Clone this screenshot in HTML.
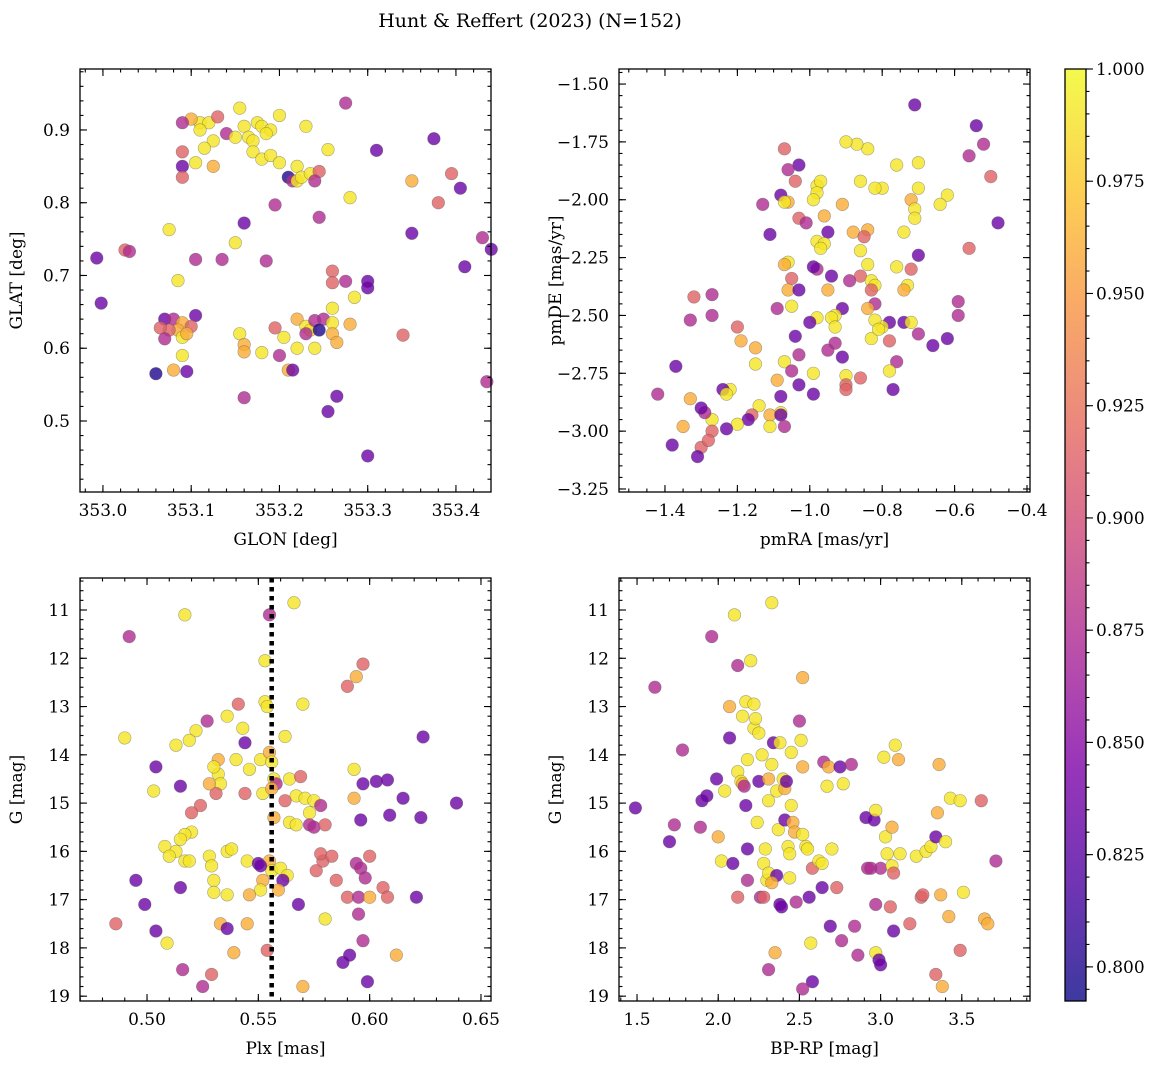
<!DOCTYPE html>
<html><head><meta charset="utf-8"><style>
body{margin:0;background:#fff;width:1161px;height:1068px;overflow:hidden}
svg text{font-family:"DejaVu Serif","Liberation Serif",serif;fill:#000}
</style></head><body>
<svg id="fig" width="1161" height="1068" viewBox="0 0 1161 1068" xmlns="http://www.w3.org/2000/svg">
<defs><linearGradient id="plasma" x1="0" y1="1" x2="0" y2="0">
<stop offset="0" stop-color="#0d0887"/><stop offset="0.125" stop-color="#4c02a1"/><stop offset="0.25" stop-color="#7e03a8"/><stop offset="0.375" stop-color="#a92395"/><stop offset="0.5" stop-color="#cc4778"/><stop offset="0.625" stop-color="#e66c5c"/><stop offset="0.75" stop-color="#f89540"/><stop offset="0.875" stop-color="#fdc527"/><stop offset="1" stop-color="#f0f921"/></linearGradient></defs>
<text x="530" y="27" font-size="19" text-anchor="middle">Hunt &amp; Reffert (2023) (N=152)</text>
</svg>
<script>
// probability codes: y=0.99 o=0.96 p=0.915 m=0.875 v=0.835 d=0.80
const posData=[[353.155,0.93,.99],[353.20,0.92,.99],[353.11,0.91,.99],[353.12,0.91,.99],[353.10,0.915,.96],[353.13,0.918,.915],[353.09,0.91,.875],[353.16,0.905,.99],[353.175,0.91,.99],[353.18,0.905,.99],[353.19,0.90,.99],[353.11,0.90,.99],[353.14,0.895,.875],[353.165,0.89,.99],[353.17,0.885,.99],[353.185,0.895,.99],[353.23,0.905,.99],[353.275,0.937,.875],[353.15,0.89,.99],[353.125,0.885,.99],[353.09,0.87,.915],[353.115,0.875,.99],[353.105,0.855,.99],[353.125,0.85,.96],[353.17,0.87,.99],[353.18,0.86,.99],[353.19,0.865,.99],[353.20,0.855,.99],[353.22,0.85,.99],[353.255,0.873,.99],[353.09,0.85,.835],[353.09,0.835,.915],[353.21,0.835,.80],[353.215,0.83,.875],[353.22,0.83,.99],[353.225,0.835,.99],[353.235,0.84,.99],[353.245,0.843,.915],[353.24,0.83,.875],[353.28,0.807,.99],[353.195,0.797,.875],[353.245,0.78,.875],[353.31,0.872,.835],[353.375,0.888,.835],[353.395,0.84,.915],[353.405,0.82,.835],[353.38,0.80,.915],[353.35,0.758,.835],[353.43,0.752,.875],[353.44,0.736,.835],[353.41,0.712,.835],[353.16,0.772,.835],[353.15,0.745,.99],[353.185,0.72,.875],[353.135,0.722,.875],[353.105,0.722,.875],[353.075,0.763,.99],[353.025,0.735,.915],[353.03,0.733,.875],[352.993,0.724,.835],[352.998,0.662,.835],[353.085,0.693,.99],[353.26,0.706,.915],[353.26,0.69,.915],[353.275,0.692,.875],[353.30,0.692,.835],[353.30,0.683,.835],[353.285,0.67,.99],[353.26,0.655,.99],[353.35,0.83,.96],[353.34,0.618,.915],[353.07,0.64,.835],[353.08,0.64,.875],[353.09,0.635,.96],[353.105,0.645,.835],[353.10,0.63,.915],[353.085,0.625,.96],[353.075,0.625,.915],[353.065,0.628,.915],[353.07,0.613,.875],[353.09,0.615,.99],[353.095,0.62,.96],[353.06,0.565,.80],[353.08,0.57,.96],[353.095,0.568,.835],[353.09,0.59,.99],[353.155,0.62,.99],[353.16,0.605,.96],[353.16,0.595,.96],[353.18,0.594,.99],[353.195,0.628,.915],[353.20,0.59,.875],[353.205,0.615,.99],[353.21,0.57,.96],[353.215,0.57,.835],[353.22,0.64,.96],[353.23,0.63,.99],[353.235,0.625,.99],[353.24,0.638,.875],[353.25,0.64,.875],[353.26,0.635,.99],[353.26,0.62,.96],[353.245,0.625,.80],[353.24,0.60,.99],[353.22,0.60,.99],[353.265,0.608,.96],[353.28,0.633,.96],[353.255,0.513,.835],[353.265,0.534,.835],[353.30,0.452,.835],[353.16,0.532,.875],[353.435,0.554,.875],[353.23,0.62,.875]];
const pmData=[[-0.71,-1.59,.835],[-0.54,-1.68,.835],[-0.52,-1.76,.875],[-0.56,-1.81,.875],[-0.50,-1.90,.915],[-0.48,-2.10,.835],[-0.56,-2.21,.915],[-0.59,-2.44,.875],[-0.59,-2.50,.875],[-0.62,-2.60,.835],[-0.66,-2.63,.835],[-0.70,-2.58,.875],[-0.70,-2.24,.835],[-0.74,-2.53,.835],[-0.78,-2.53,.835],[-0.80,-2.55,.99],[-0.70,-1.84,.99],[-0.76,-1.85,.99],[-0.70,-1.95,.99],[-0.72,-2.00,.96],[-0.71,-2.04,.99],[-0.71,-2.08,.99],[-0.62,-1.98,.99],[-0.64,-2.02,.99],[-0.74,-2.14,.99],[-0.72,-2.30,.915],[-0.76,-2.29,.99],[-0.73,-2.37,.99],[-0.74,-2.39,.96],[-0.72,-2.53,.99],[-0.78,-2.61,.915],[-0.76,-2.70,.875],[-0.78,-2.74,.99],[-0.77,-2.82,.835],[-0.80,-1.95,.99],[-0.82,-1.95,.99],[-0.84,-1.78,.99],[-0.87,-1.76,.99],[-0.90,-1.75,.99],[-0.86,-1.92,.99],[-0.91,-2.02,.96],[-0.88,-2.14,.96],[-0.84,-2.13,.96],[-0.85,-2.16,.915],[-0.86,-2.22,.99],[-0.84,-2.28,.99],[-0.86,-2.33,.915],[-0.83,-2.35,.99],[-0.82,-2.37,.99],[-0.83,-2.39,.915],[-0.82,-2.45,.875],[-0.84,-2.47,.96],[-0.82,-2.52,.99],[-0.83,-2.60,.99],[-0.81,-2.56,.99],[-0.89,-2.35,.875],[-0.91,-2.47,.835],[-0.93,-2.50,.99],[-0.94,-2.51,.99],[-0.93,-2.55,.99],[-0.93,-2.62,.875],[-0.91,-2.68,.835],[-0.90,-2.76,.99],[-0.90,-2.80,.915],[-0.90,-2.82,.915],[-0.86,-2.77,.915],[-0.98,-1.94,.99],[-0.97,-1.92,.99],[-0.98,-1.97,.99],[-0.99,-2.00,.99],[-0.95,-2.14,.835],[-0.98,-2.18,.99],[-0.96,-2.19,.99],[-0.97,-2.21,.99],[-0.96,-2.07,.96],[-0.98,-2.30,.875],[-0.99,-2.29,.835],[-0.94,-2.33,.835],[-0.95,-2.39,.96],[-0.98,-2.51,.99],[-1.00,-2.53,.835],[-0.95,-2.65,.875],[-0.99,-2.75,.99],[-0.99,-2.84,.835],[-1.03,-1.85,.835],[-1.06,-1.87,.875],[-1.04,-1.92,.915],[-1.07,-1.78,.915],[-1.08,-1.98,.835],[-1.06,-2.01,.96],[-1.07,-2.01,.99],[-1.13,-2.02,.875],[-1.11,-2.15,.835],[-1.06,-2.27,.99],[-1.07,-2.28,.96],[-1.05,-2.34,.915],[-1.06,-2.39,.96],[-1.03,-2.39,.835],[-1.05,-2.46,.99],[-1.09,-2.47,.875],[-1.04,-2.59,.835],[-1.07,-2.70,.99],[-1.03,-2.67,.875],[-1.05,-2.74,.875],[-1.03,-2.80,.835],[-1.09,-2.78,.96],[-1.08,-2.85,.835],[-1.08,-2.92,.99],[-1.11,-2.93,.96],[-1.08,-2.93,.835],[-1.07,-2.98,.875],[-1.11,-2.98,.99],[-1.03,-2.08,.915],[-1.01,-2.10,.875],[-1.15,-2.71,.99],[-1.14,-2.89,.99],[-1.16,-2.93,.915],[-1.17,-2.95,.835],[-1.15,-2.64,.96],[-1.20,-2.55,.915],[-1.19,-2.61,.96],[-1.20,-2.97,.99],[-1.22,-2.82,.99],[-1.24,-2.82,.835],[-1.23,-2.84,.99],[-1.23,-2.99,.835],[-1.27,-2.95,.99],[-1.27,-3.00,.915],[-1.29,-2.92,.875],[-1.30,-2.90,.835],[-1.30,-3.07,.915],[-1.31,-3.11,.835],[-1.33,-2.86,.96],[-1.33,-2.52,.875],[-1.32,-2.42,.915],[-1.27,-2.41,.875],[-1.27,-2.50,.875],[-1.35,-2.98,.96],[-1.38,-3.06,.835],[-1.37,-2.72,.835],[-1.42,-2.84,.875],[-1.28,-3.04,.915]];
const plxData=[[0.492,11.55,.875],[0.517,11.1,.99],[0.555,11.1,.875],[0.566,10.85,.99],[0.553,12.05,.99],[0.597,12.12,.915],[0.594,12.38,.96],[0.590,12.58,.915],[0.570,12.95,.99],[0.553,12.9,.99],[0.554,13.0,.99],[0.541,12.95,.915],[0.527,13.3,.875],[0.522,13.5,.99],[0.519,13.7,.99],[0.513,13.8,.99],[0.490,13.65,.99],[0.536,13.2,.99],[0.544,13.75,.835],[0.543,13.45,.99],[0.562,13.62,.99],[0.624,13.63,.835],[0.532,14.1,.96],[0.540,14.1,.99],[0.551,14.1,.99],[0.555,13.95,.96],[0.556,14.15,.99],[0.546,14.3,.99],[0.557,14.5,.99],[0.558,14.6,.875],[0.564,14.5,.99],[0.569,14.45,.915],[0.504,14.25,.835],[0.515,14.65,.835],[0.532,14.4,.99],[0.533,14.6,.99],[0.531,14.8,.915],[0.530,14.25,.99],[0.528,14.6,.96],[0.503,14.75,.99],[0.544,14.8,.915],[0.552,14.8,.99],[0.556,14.7,.96],[0.567,14.85,.99],[0.571,14.9,.99],[0.575,14.95,.99],[0.573,15.2,.99],[0.578,15.05,.875],[0.593,14.9,.96],[0.597,14.6,.835],[0.593,14.3,.99],[0.603,14.55,.835],[0.608,14.52,.835],[0.615,14.9,.835],[0.609,15.25,.835],[0.623,15.3,.835],[0.596,15.35,.835],[0.562,14.95,.915],[0.557,15.3,.96],[0.564,15.4,.99],[0.567,15.45,.99],[0.573,15.45,.875],[0.575,15.5,.875],[0.580,15.45,.915],[0.524,15.05,.915],[0.520,15.2,.915],[0.520,15.6,.99],[0.517,15.65,.99],[0.515,15.75,.99],[0.508,15.9,.99],[0.513,16.0,.99],[0.510,16.1,.99],[0.517,16.2,.99],[0.519,16.2,.99],[0.528,16.1,.99],[0.529,16.3,.99],[0.536,16.0,.99],[0.538,15.95,.99],[0.545,16.2,.99],[0.550,16.25,.835],[0.555,16.2,.96],[0.556,16.4,.99],[0.560,16.35,.99],[0.563,16.5,.99],[0.561,16.6,.835],[0.559,16.8,.96],[0.552,16.6,.96],[0.551,16.8,.99],[0.546,16.9,.96],[0.530,16.6,.99],[0.530,16.85,.99],[0.536,16.9,.99],[0.533,17.5,.96],[0.536,17.6,.835],[0.529,18.55,.915],[0.525,18.8,.875],[0.516,18.45,.875],[0.515,16.75,.835],[0.499,17.1,.835],[0.495,16.6,.835],[0.504,17.65,.835],[0.509,17.9,.99],[0.486,17.5,.915],[0.539,18.1,.96],[0.545,17.5,.96],[0.554,18.05,.915],[0.568,17.1,.835],[0.570,18.8,.96],[0.576,16.4,.915],[0.579,16.2,.915],[0.578,16.05,.915],[0.583,16.1,.915],[0.585,16.6,.915],[0.580,17.4,.99],[0.590,16.95,.915],[0.594,16.25,.875],[0.596,16.35,.875],[0.598,16.55,.875],[0.595,16.95,.875],[0.600,16.95,.96],[0.600,16.1,.915],[0.595,17.3,.875],[0.606,16.75,.915],[0.608,16.95,.915],[0.612,18.15,.96],[0.621,16.95,.835],[0.588,18.3,.835],[0.591,18.15,.835],[0.597,17.85,.875],[0.599,18.7,.835],[0.639,15.0,.835],[0.551,16.3,.835]];
const cmdData=[[1.49,15.1,.835],[1.61,12.6,.875],[1.70,15.8,.835],[1.73,15.45,.875],[1.78,13.9,.875],[1.89,15.5,.875],[1.90,14.95,.835],[1.93,14.85,.835],[1.96,11.55,.875],[1.99,14.5,.835],[2.00,15.7,.96],[2.02,16.2,.99],[2.04,14.75,.99],[2.07,13.0,.96],[2.07,13.65,.835],[2.09,16.25,.835],[2.10,11.1,.99],[2.12,12.15,.875],[2.12,14.35,.99],[2.14,14.55,.99],[2.15,14.6,.96],[2.15,13.2,.99],[2.16,14.65,.875],[2.17,15.05,.835],[2.18,14.1,.99],[2.18,15.95,.835],[2.18,16.6,.875],[2.17,12.9,.99],[2.20,12.05,.99],[2.22,12.95,.99],[2.22,13.45,.99],[2.23,13.25,.99],[2.24,15.4,.99],[2.25,13.55,.99],[2.25,14.55,.835],[2.26,16.95,.875],[2.27,14.0,.99],[2.28,16.25,.99],[2.28,16.95,.915],[2.29,15.95,.99],[2.30,16.6,.99],[2.31,16.45,.99],[2.31,14.95,.99],[2.31,14.5,.96],[2.33,10.85,.99],[2.33,14.2,.99],[2.34,13.75,.835],[2.35,18.1,.96],[2.36,14.75,.99],[2.36,16.5,.835],[2.37,15.55,.99],[2.38,17.1,.835],[2.38,13.75,.99],[2.39,17.15,.835],[2.40,14.5,.99],[2.41,14.7,.96],[2.41,15.35,.835],[2.42,14.55,.835],[2.43,15.9,.99],[2.44,16.55,.99],[2.44,16.05,.99],[2.45,15.05,.99],[2.45,13.95,.99],[2.46,15.4,.96],[2.47,15.6,.96],[2.48,17.05,.875],[2.50,13.3,.875],[2.51,13.7,.99],[2.52,15.65,.99],[2.52,12.4,.96],[2.52,14.25,.96],[2.54,15.9,.99],[2.55,15.95,.99],[2.56,16.95,.835],[2.57,17.9,.99],[2.58,18.7,.835],[2.58,16.35,.915],[2.62,16.2,.99],[2.64,16.25,.99],[2.64,16.75,.835],[2.65,14.15,.875],[2.67,14.65,.99],[2.68,14.25,.96],[2.69,17.55,.835],[2.70,15.95,.99],[2.73,16.75,.915],[2.75,14.25,.835],[2.76,17.85,.875],[2.77,14.6,.99],[2.82,14.2,.875],[2.84,17.55,.875],[2.86,18.15,.875],[2.91,15.3,.835],[2.92,16.35,.875],[2.94,16.35,.875],[2.96,15.35,.835],[2.97,15.15,.99],[2.97,17.1,.875],[2.97,18.1,.99],[2.99,18.25,.835],[3.00,18.35,.835],[3.00,16.35,.875],[3.02,14.05,.99],[3.03,15.7,.99],[3.04,16.05,.99],[3.06,17.15,.915],[3.07,15.5,.96],[3.07,16.3,.99],[3.08,16.45,.915],[3.08,17.65,.835],[3.09,13.8,.99],[3.11,14.1,.96],[3.12,16.05,.99],[3.18,17.5,.915],[3.22,16.1,.99],[3.25,16.95,.915],[3.26,16.9,.915],[3.28,16.0,.99],[3.31,15.9,.99],[3.34,15.7,.835],[3.34,18.55,.915],[3.35,15.2,.96],[3.36,14.2,.96],[3.37,16.9,.96],[3.38,18.8,.96],[3.40,15.8,.99],[3.42,17.35,.96],[3.43,14.9,.99],[3.49,14.95,.99],[3.49,18.05,.915],[3.51,16.85,.99],[3.62,14.95,.915],[3.64,17.4,.96],[3.66,17.5,.96],[3.71,16.2,.875],[2.52,18.85,.875],[2.31,18.45,.875],[2.33,16.65,.96],[2.12,16.95,.915]];
const glonTicks=[353.0,353.1,353.2,353.3,353.4];
const glatTicks=[0.5,0.6,0.7,0.8,0.9];
const pmraTicks=[-1.4,-1.2,-1.0,-0.8,-0.6,-0.4];
const pmdeTicks=[-3.25,-3.0,-2.75,-2.5,-2.25,-2.0,-1.75,-1.5];
const plxTicks=[0.50,0.55,0.60,0.65];
const gTicks=[11,12,13,14,15,16,17,18,19];
const bprpTicks=[1.5,2.0,2.5,3.0,3.5];
const cbarTicks=[0.800,0.825,0.850,0.875,0.900,0.925,0.950,0.975,1.000];
const plxCut=0.556;

const NS="http://www.w3.org/2000/svg";
const svg=document.getElementById('fig');
const VMIN=0.7924,VMAX=1.0;
const stops=[[13,8,135],[76,2,161],[126,3,168],[169,35,149],[204,71,120],[230,108,92],[248,149,64],[253,197,39],[240,249,33]];
function cmap(v){let t=Math.max(0,Math.min(1,(v-VMIN)/(VMAX-VMIN)))*(stops.length-1);let i=Math.min(Math.floor(t),stops.length-2),f=t-i;const a=stops[i],b=stops[i+1];return `rgb(${a.map((c,k)=>Math.round(c+(b[k]-c)*f)).join(',')})`;}
function el(tag,attrs,parent){const e=document.createElementNS(NS,tag);for(const k in attrs)e.setAttribute(k,attrs[k]);(parent||svg).appendChild(e);return e;}
function fmt(v,d){return v.toFixed(d).replace('-','\u2212');}

function panel(o){
  const g=el('g',{});
  
  
  const sx=v=>o.x0+(v-o.xmin)/(o.xmax-o.xmin)*(o.x1-o.x0);
  const sy=o.invert?(v=>o.y0+(v-o.ymin)/(o.ymax-o.ymin)*(o.y1-o.y0)):(v=>o.y1-(v-o.ymin)/(o.ymax-o.ymin)*(o.y1-o.y0));
  const pts=el('g',{},g);
  
  
  o.data.forEach(d=>{
    const c=el('circle',{cx:sx(d[0]),cy:sy(d[1]),r:6.3,fill:cmap(d[2]),'fill-opacity':0.8,stroke:'#555','stroke-opacity':0.5,'stroke-width':0.6},pts);
    
    
  });
  if(o.vline!==undefined){
    const l=el('line',{x1:sx(o.vline),x2:sx(o.vline),y1:o.y0,y2:o.y1,stroke:'#000','stroke-width':4.5,'stroke-dasharray':'4.5,4.5'},g);
    
    
  }
  const fr=el('rect',{x:o.x0,y:o.y0,width:o.x1-o.x0,height:o.y1-o.y0,fill:'none',stroke:'#000','stroke-width':1.3},g);
  
  
  const tk=el('g',{stroke:'#000','stroke-width':1.1},g);
  
  
  const xs=Math.ceil(o.xmin/o.xminor),xe=Math.floor(o.xmax/o.xminor);
  for(let i=xs;i<=xe;i++){const X=sx(i*o.xminor);el('line',{x1:X,x2:X,y1:o.y1,y2:o.y1-3.5},tk);el('line',{x1:X,x2:X,y1:o.y0,y2:o.y0+3.5},tk);}
  const ys=Math.ceil(o.ymin/o.yminor),ye=Math.floor(o.ymax/o.yminor);
  for(let i=ys;i<=ye;i++){const Y=sy(i*o.yminor);el('line',{x1:o.x0,x2:o.x0+3.5,y1:Y,y2:Y},tk);el('line',{x1:o.x1,x2:o.x1-3.5,y1:Y,y2:Y},tk);}
  const lab=el('g',{'font-size':17},g);
  
  
  o.xticks.forEach(v=>{const X=sx(v);el('line',{x1:X,x2:X,y1:o.y1,y2:o.y1-7},tk);el('line',{x1:X,x2:X,y1:o.y0,y2:o.y0+7},tk);
    const t=el('text',{x:X,y:o.y1+24,'text-anchor':'middle'},lab);t.textContent=fmt(v,o.xd);});
  o.yticks.forEach(v=>{if(v<Math.min(o.ymin,o.ymax)-1e-9||v>Math.max(o.ymin,o.ymax)+1e-9)return;const Y=sy(v);el('line',{x1:o.x0,x2:o.x0+7,y1:Y,y2:Y},tk);el('line',{x1:o.x1,x2:o.x1-7,y1:Y,y2:Y},tk);
    const t=el('text',{x:o.x0-10,y:Y+6,'text-anchor':'end'},lab);t.textContent=fmt(v,o.yd);});
  const xl=el('text',{x:(o.x0+o.x1)/2,y:o.y1+53,'text-anchor':'middle','font-size':17},g);xl.textContent=o.xlabel;
  
  const yl=el('text',{x:0,y:0,'text-anchor':'middle','font-size':17,transform:`translate(${o.x0-58},${(o.y0+o.y1)/2}) rotate(-90)`},g);yl.textContent=o.ylabel;
  
}
panel({name:'position-panel',x0:80,x1:491,y0:69,y1:492,xmin:352.974,xmax:353.4397,ymin:0.4024,ymax:0.9838,xminor:0.02,yminor:0.02,xticks:glonTicks,yticks:glatTicks,xd:1,yd:1,xlabel:'GLON [deg]',ylabel:'GLAT [deg]',data:posData});
panel({name:'proper-motion-panel',x0:619,x1:1030,y0:69,y1:492,xmin:-1.527,xmax:-0.3917,ymin:-3.263,ymax:-1.435,xminor:0.05,yminor:0.05,xticks:pmraTicks,yticks:pmdeTicks,xd:1,yd:2,xlabel:'pmRA [mas/yr]',ylabel:'pmDE [mas/yr]',data:pmData});
panel({name:'parallax-panel',x0:80,x1:491,y0:578,y1:1001,xmin:0.4699,xmax:0.6545,ymin:10.337,ymax:19.10,invert:true,xminor:0.01,yminor:0.2,xticks:plxTicks,yticks:gTicks,xd:2,yd:0,xlabel:'Plx [mas]',ylabel:'G [mag]',data:plxData,vline:plxCut});
panel({name:'cmd-panel',x0:619,x1:1030,y0:578,y1:1001,xmin:1.389,xmax:3.92,ymin:10.337,ymax:19.10,invert:true,xminor:0.1,yminor:0.2,xticks:bprpTicks,yticks:gTicks,xd:1,yd:0,xlabel:'BP-RP [mag]',ylabel:'G [mag]',data:cmdData});

const cb=el('g',{});


const cx0=1065,cx1=1086,cy0=69,cy1=1001;
const cbs=v=>cy1-(v-VMIN)/(VMAX-VMIN)*(cy1-cy0);
el('rect',{x:cx0,y:cy0,width:cx1-cx0,height:cy1-cy0,fill:'url(#plasma)','fill-opacity':0.8},cb);
el('rect',{x:cx0,y:cy0,width:cx1-cx0,height:cy1-cy0,fill:'none',stroke:'#000','stroke-width':1.3},cb);
for(let i=Math.ceil(VMIN/0.005);i<=Math.floor(VMAX/0.005);i++){const Y=cbs(i*0.005);el('line',{x1:cx1,x2:cx1+3.5,y1:Y,y2:Y,stroke:'#000','stroke-width':1.1},cb);}
cbarTicks.forEach(v=>{const Y=cbs(v);el('line',{x1:cx1,x2:cx1+7,y1:Y,y2:Y,stroke:'#000','stroke-width':1.1},cb);
  const t=el('text',{x:cx1+10,y:Y+6,'font-size':17},cb);t.textContent=v.toFixed(3);});
</script>
</body></html>
